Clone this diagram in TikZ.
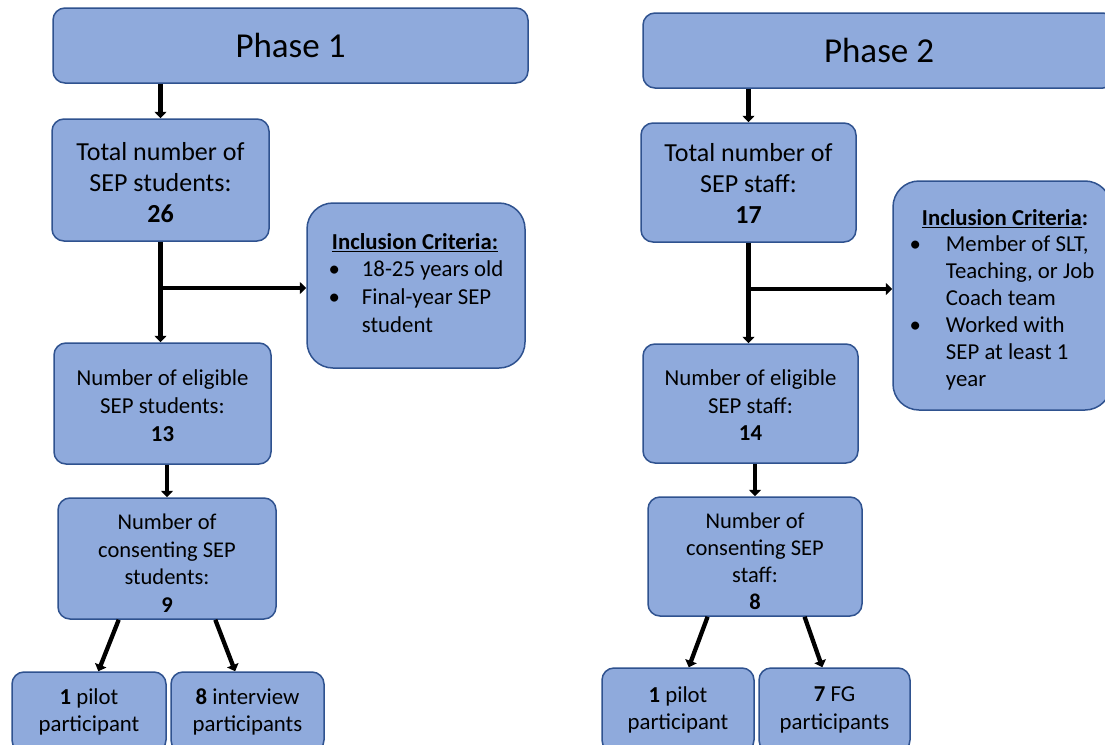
\documentclass[tikz,border=0pt]{standalone}
\usepackage{fontspec}
\setmainfont{Carlito}
\usetikzlibrary{arrows.meta,calc}
\definecolor{boxfill}{RGB}{143,170,220}
\definecolor{bdr}{RGB}{47,82,143}
\newcommand{\lowered}[2]{\raisebox{-#1}[\height][\depth]{\begin{tabular}{@{}c@{}}#2\end{tabular}}}
\tikzset{
  box/.style={draw=bdr, fill=boxfill, line width=1.5pt, rounded corners=12pt, align=center,
    font=\fontsize{22.8}{27.8}\selectfont, inner sep=0pt},
  bigbox/.style={box, font=\fontsize{26}{31}\selectfont},
  phasebox/.style={box, font=\fontsize{35}{40}\selectfont},
  critbox/.style={box, rounded corners=26pt},
  arr/.style={line width=4.3pt, -{Triangle[length=6.5pt,width=12pt]}},
}
\begin{document}
\begin{tikzpicture}[x=1pt,y=-1pt]
\useasboundingbox (0,0) rectangle (1105,744);
\clip (0,0) rectangle (1105,744);
\fill[white] (0,0) rectangle (1105,744);
% Phase 1
\node[phasebox, minimum width=475pt, minimum height=75pt] (phase1) at (290.5,45.5) {Phase 1};
\node[bigbox, minimum width=217pt, minimum height=122pt] (total1) at (160.5,180) {\lowered{5pt}{Total number of\\SEP students:\\\textbf{26}}};
\node[critbox, minimum width=218pt, minimum height=165pt] (incl1) at (416,285.5)
  {\begin{tabular}{@{}c@{}}\hspace*{-2pt}\textbf{\underline{Inclusion Criteria:}}\\[-1pt]
   \begin{tabular}{@{}l@{\hspace{22pt}}l@{}}\textbullet & 18-25 years old\\ \textbullet & Final-year SEP\\ & student\end{tabular}\end{tabular}};
\node[box, minimum width=217pt, minimum height=121pt] (elig1) at (162.5,403.5) {\lowered{4.5pt}{Number of eligible\\SEP students:\\\textbf{13}}};
\node[box, minimum width=218pt, minimum height=121pt, font=\fontsize{22.5}{27.5}\selectfont] (cons1) at (167,558.5) {\lowered{7pt}{Number of\\consenting SEP\\students:\\\textbf{9}}};
\node[box, minimum width=154pt, minimum height=80pt] (pilot1) at (89,712) {\textbf{1} pilot\\participant};
\node[box, minimum width=153pt, minimum height=80pt] (int1) at (247.5,712) {\textbf{8} interview\\participants};
% Phase 2
\node[phasebox, minimum width=472pt, minimum height=75pt] (phase2) at (879,50.5) {Phase 2};
\node[bigbox, minimum width=215pt, minimum height=119pt] (total2) at (748.5,182.5) {\lowered{4pt}{Total number of\\SEP staff:\\\textbf{17}}};
\node[critbox, minimum width=218pt, minimum height=229pt, font=\fontsize{22.8}{27}\selectfont] (incl2) at (1002,295.5)
  {\raisebox{-5pt}[\height][\depth]{\begin{tabular}{@{}c@{}}\hspace*{6pt}\textbf{\underline{Inclusion Criteria}:}\\[-1pt]
   \begin{tabular}{@{}l@{\hspace{25pt}}l@{}}\textbullet & Member of SLT,\\ & Teaching, or Job\\ & Coach team\\ \textbullet & Worked with\\ & SEP at least 1\\ & year\end{tabular}\end{tabular}}};
\node[box, minimum width=215pt, minimum height=119pt] (elig2) at (750.5,403.5) {\lowered{4pt}{Number of eligible\\SEP staff:\\\textbf{14}}};
\node[box, minimum width=214pt, minimum height=119pt, font=\fontsize{22.5}{27}\selectfont] (cons2) at (755,556.5) {\lowered{7pt}{Number of\\consenting SEP\\staff:\\\textbf{8}}};
\node[box, minimum width=152pt, minimum height=84pt] (pilot2) at (678,710) {\textbf{1} pilot\\participant};
\node[box, minimum width=151pt, minimum height=84pt] (fg2) at (834.5,710) {\textbf{7} FG\\participants};
% branch points
\coordinate (br1) at (160.5,288);
\coordinate (br2) at (748.5,289);
% connectors phase 1
\draw[arr] (phase1.south -| total1.north) -- (total1.north);
\draw[arr] (total1.south) -- (total1.south |- elig1.north);
\draw[arr] (br1) -- (br1 -| incl1.west);
\draw[arr] (elig1.south -| cons1.north) -- (cons1.north);
\draw[arr] ($(cons1.south west)!0.28!(cons1.south east)$) -- ($(pilot1.north west)!0.56!(pilot1.north east)$);
\draw[arr] ($(cons1.south west)!0.72!(cons1.south east)$) -- ($(int1.north west)!0.42!(int1.north east)$);
% connectors phase 2
\draw[arr] (phase2.south -| total2.north) -- (total2.north);
\draw[arr] (total2.south) -- (total2.south |- elig2.north);
\draw[arr] (br2) -- (br2 -| incl2.west);
\draw[arr] (elig2.south -| cons2.north) -- (cons2.north);
\draw[arr] ($(cons2.south west)!0.28!(cons2.south east)$) -- ($(pilot2.north west)!0.57!(pilot2.north east)$);
\draw[arr] ($(cons2.south west)!0.73!(cons2.south east)$) -- ($(fg2.north west)!0.42!(fg2.north east)$);
\end{tikzpicture}
\end{document}
